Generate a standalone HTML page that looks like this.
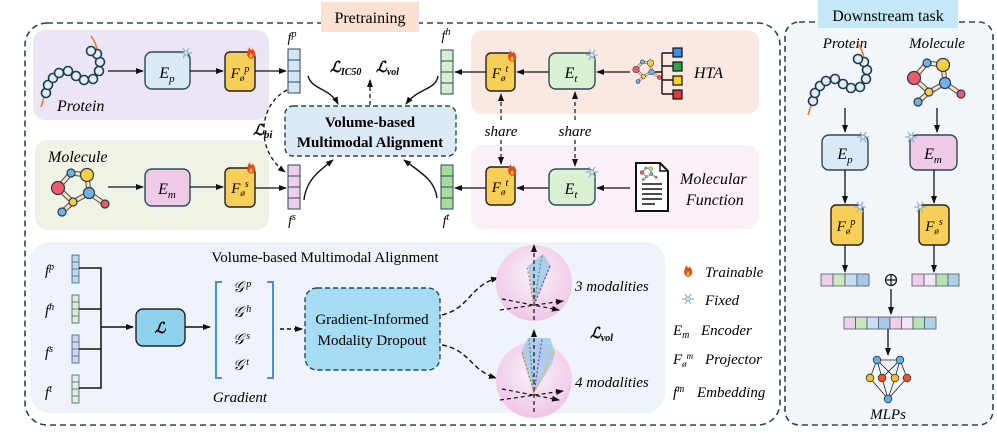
<!DOCTYPE html>
<html><head><meta charset="utf-8"><style>
html,body{margin:0;padding:0;background:#fff;}
svg{display:block;font-family:"Liberation Serif",serif;}
.it{font-style:italic;}
</style></head><body>
<svg width="997" height="433" viewBox="0 0 997 433" xmlns="http://www.w3.org/2000/svg">
<defs>
<marker id="ar" markerWidth="8" markerHeight="8" refX="7" refY="4" orient="auto" markerUnits="userSpaceOnUse"><path d="M0,1 L8,4 L0,7 Z" fill="#111"/></marker>
<radialGradient id="sph" cx="50%" cy="40%" r="60%"><stop offset="0" stop-color="#f9f1f8"/><stop offset="1" stop-color="#efc6e6"/></radialGradient>
<g id="flame"><path d="M0,0 C-5,-2 -5,-7 -1,-12 C-1,-8 2,-8 1,-11 C5,-7 6,-2 0,0 Z" fill="#e8471c"/><path d="M0,-1 C-2,-2 -2,-4 0,-6 C2,-4 2,-2 0,-1Z" fill="#f9c22e"/></g>
<g id="snow" stroke="#8fb3cc" stroke-width="1.2" fill="none"><path d="M-6,0 H6 M-3,-5.2 L3,5.2 M3,-5.2 L-3,5.2"/><circle r="2" fill="#dfeefa"/></g>
<g id="mol">
<g stroke="#5a4a3a" stroke-width="5" stroke-linecap="round" fill="none"><path d="M0,15 L13,0 L29,2 L31,20 L15,29 L0,15 M31,20 L47,31 M15,29 L4,39"/></g>
<g stroke="#efe2d0" stroke-width="3" stroke-linecap="round" fill="none"><path d="M0,15 L13,0 L29,2 L31,20 L15,29 L0,15 M31,20 L47,31 M15,29 L4,39"/></g>
<g stroke="#2a3a4a" stroke-width="1.2"><circle cx="0" cy="15" r="6.5" fill="#ef5a6a"/><circle cx="13" cy="0" r="4" fill="#6fb3ea"/><circle cx="29" cy="2" r="6.5" fill="#f6cf42"/><circle cx="31" cy="20" r="5.5" fill="#6fb3ea"/><circle cx="15" cy="29" r="4" fill="#f6cf42"/><circle cx="47" cy="31" r="4" fill="#ef5a6a"/><circle cx="4" cy="39" r="4" fill="#6fb3ea"/></g>
</g>
<g id="prot">
<path d="M0,45 C2,40 2,36 4,34" stroke="#e8752b" stroke-width="1.5" fill="none"/>
<path d="M56,-12 C55,-18 53,-22 50,-26" stroke="#e8752b" stroke-width="1.5" fill="none"/>
<g fill="#dfeefa" stroke="#1e3a4a" stroke-width="1.6">
<circle cx="5" cy="31" r="4.5"/><circle cx="7" cy="23" r="4.5"/><circle cx="12" cy="16" r="4.5"/><circle cx="18" cy="11" r="4.5"/><circle cx="27" cy="9" r="4.5"/><circle cx="35" cy="14" r="4.5"/><circle cx="43" cy="18" r="4.5"/><circle cx="52" cy="17" r="4.5"/><circle cx="58" cy="9" r="4.5"/><circle cx="59" cy="0" r="4.5"/><circle cx="56" cy="-8" r="4.5"/><circle cx="50" cy="-11" r="4.5"/>
</g></g>
</defs>

<rect x="25" y="23" width="755" height="402" rx="22" fill="none" stroke="#2d4654" stroke-width="1.6" stroke-dasharray="6,4"/>
<rect x="321" y="2" width="98" height="30" fill="#fbe1d2"/>
<text x="370" y="23" font-size="16" text-anchor="middle">Pretraining</text>

<rect x="33" y="30" width="236" height="90" rx="12" fill="#ece6f4"/>
<rect x="35" y="140" width="234" height="90" rx="12" fill="#eef3e6"/>
<rect x="471" y="30" width="288" height="84" rx="12" fill="#fce8e2"/>
<rect x="471" y="145" width="288" height="84" rx="12" fill="#fcf0f8"/>

<use href="#prot" x="41" y="62"/>
<text x="57" y="111" font-size="16" class="it">Protein</text>
<line x1="108" y1="71" x2="143" y2="71" stroke="#111" stroke-width="1.3" marker-end="url(#ar)"/>
<rect x="145" y="52" width="45" height="37" rx="7" fill="#dbe8f5" stroke="#2a4a5a" stroke-width="1.4"/>
<text x="167" y="78" font-size="16" class="it" text-anchor="middle">E<tspan font-size="11" dy="4">p</tspan></text>
<use href="#snow" x="186" y="53"/>
<line x1="190" y1="71" x2="223" y2="71" stroke="#111" stroke-width="1.3" marker-end="url(#ar)"/>
<rect x="225" y="52" width="30" height="39" rx="5" fill="#f7ce57" stroke="#222" stroke-width="1.4"/>
<text x="240" y="78" font-size="15" class="it" text-anchor="middle">F<tspan font-size="9" dy="3">ø</tspan><tspan font-size="10" dy="-9">p</tspan></text>
<use href="#flame" x="251" y="59"/>
<line x1="255" y1="71" x2="286" y2="71" stroke="#111" stroke-width="1.3" marker-end="url(#ar)"/>
<g stroke="#2a4a5a" stroke-width="1" fill="#d4e6f4"><rect x="288" y="49" width="12" height="11"/><rect x="288" y="60" width="12" height="11"/><rect x="288" y="71" width="12" height="11"/><rect x="288" y="82" width="12" height="11"/></g>
<text x="292" y="42" font-size="14" class="it" text-anchor="middle">f<tspan font-size="10" dy="-5">p</tspan></text>

<text x="48" y="162" font-size="16" class="it">Molecule</text>
<use href="#mol" x="58" y="173"/>
<line x1="108" y1="187" x2="143" y2="187" stroke="#111" stroke-width="1.3" marker-end="url(#ar)"/>
<rect x="145" y="169" width="45" height="37" rx="7" fill="#f0cbe8" stroke="#2a4a5a" stroke-width="1.4"/>
<text x="167" y="194" font-size="16" class="it" text-anchor="middle">E<tspan font-size="11" dy="4">m</tspan></text>
<line x1="190" y1="187" x2="223" y2="187" stroke="#111" stroke-width="1.3" marker-end="url(#ar)"/>
<rect x="225" y="168" width="30" height="39" rx="5" fill="#f7ce57" stroke="#222" stroke-width="1.4"/>
<text x="240" y="193" font-size="15" class="it" text-anchor="middle">F<tspan font-size="9" dy="3">ø</tspan><tspan font-size="10" dy="-9">s</tspan></text>
<use href="#flame" x="251" y="174"/>
<line x1="255" y1="188" x2="286" y2="188" stroke="#111" stroke-width="1.3" marker-end="url(#ar)"/>
<g stroke="#2a4a5a" stroke-width="1" fill="#f0cdea"><rect x="288" y="165" width="12" height="11"/><rect x="288" y="176" width="12" height="11"/><rect x="288" y="187" width="12" height="11"/><rect x="288" y="198" width="12" height="11"/></g>
<text x="292" y="225" font-size="14" class="it" text-anchor="middle">f<tspan font-size="10" dy="-5">s</tspan></text>

<path d="M287,90 C258,105 255,150 285,172" fill="none" stroke="#111" stroke-width="1.3" stroke-dasharray="4,3" marker-end="url(#ar)"/>
<text x="253" y="135" font-size="15" font-weight="bold" font-style="italic">ℒ<tspan font-size="11" dy="3">bi</tspan></text>

<rect x="285" y="106" width="171" height="50" rx="8" fill="#dbe8f5" stroke="#2d4654" stroke-width="1.4" stroke-dasharray="5,3"/>
<text x="370" y="127" font-size="15" font-weight="bold" text-anchor="middle">Volume-based</text>
<text x="370" y="147" font-size="15" font-weight="bold" text-anchor="middle">Multimodal Alignment</text>
<line x1="370" y1="105" x2="370" y2="80" stroke="#111" stroke-width="1.3" stroke-dasharray="4,3" marker-end="url(#ar)"/>
<text x="330" y="72" font-size="15" font-weight="bold" font-style="italic">ℒ<tspan font-size="10" dy="3">IC50</tspan></text>
<text x="376" y="72" font-size="15" font-weight="bold" font-style="italic">ℒ<tspan font-size="10" dy="3">vol</tspan></text>
<path d="M308,76 C312,90 330,88 338,104" fill="none" stroke="#111" stroke-width="1.4" marker-end="url(#ar)"/>
<path d="M304,200 C306,180 320,170 333,160" fill="none" stroke="#111" stroke-width="1.4" marker-end="url(#ar)"/>
<path d="M438,76 C436,90 418,88 406,104" fill="none" stroke="#111" stroke-width="1.4" marker-end="url(#ar)"/>
<path d="M437,198 C435,180 420,172 404,160" fill="none" stroke="#111" stroke-width="1.4" marker-end="url(#ar)"/>

<g stroke="#2a4a5a" stroke-width="1" fill="#d6efd0"><rect x="441" y="50" width="12" height="11"/><rect x="441" y="61" width="12" height="11"/><rect x="441" y="72" width="12" height="11"/><rect x="441" y="83" width="12" height="11"/></g>
<text x="446" y="40" font-size="14" class="it" text-anchor="middle">f<tspan font-size="10" dy="-5">h</tspan></text>
<g stroke="#2a4a5a" stroke-width="1" fill="#a9dc9c"><rect x="441" y="165" width="12" height="11"/><rect x="441" y="176" width="12" height="11"/><rect x="441" y="187" width="12" height="11"/><rect x="441" y="198" width="12" height="11"/></g>
<text x="446" y="225" font-size="14" class="it" text-anchor="middle">f<tspan font-size="10" dy="-5">t</tspan></text>

<line x1="486" y1="72" x2="455" y2="72" stroke="#111" stroke-width="1.3" marker-end="url(#ar)"/>
<rect x="486" y="53" width="29" height="38" rx="5" fill="#f7ce57" stroke="#222" stroke-width="1.4"/>
<text x="500" y="78" font-size="15" class="it" text-anchor="middle">F<tspan font-size="9" dy="3">ø</tspan><tspan font-size="10" dy="-9">t</tspan></text>
<use href="#flame" x="512" y="62"/>
<line x1="549" y1="72" x2="517" y2="72" stroke="#111" stroke-width="1.3" marker-end="url(#ar)"/>
<rect x="549" y="53" width="46" height="36" rx="7" fill="#d9f0d3" stroke="#2a4a5a" stroke-width="1.4"/>
<text x="571" y="78" font-size="16" class="it" text-anchor="middle">E<tspan font-size="11" dy="4">t</tspan></text>
<use href="#snow" x="592" y="55"/>
<line x1="630" y1="72" x2="597" y2="72" stroke="#111" stroke-width="1.3" marker-end="url(#ar)"/>
<g transform="translate(636,62) scale(0.5)"><use href="#mol"/></g>
<g stroke="#111" stroke-width="1.4" fill="none"><path d="M662,53 V94 M655,72 H662 M662,53 H673 M662,66 H673 M662,80 H673 M662,94 H673"/></g>
<g stroke="#111" stroke-width="1.2"><rect x="673" y="48" width="9" height="9" fill="#3a8ee8"/><rect x="673" y="62" width="9" height="9" fill="#2ea94a"/><rect x="673" y="76" width="9" height="9" fill="#f4d31f"/><rect x="673" y="90" width="9" height="9" fill="#e03a3a"/></g>
<text x="694" y="78" font-size="16" class="it">HTA</text>

<line x1="501" y1="120" x2="501" y2="94" stroke="#111" stroke-width="1.2" stroke-dasharray="4,3" marker-end="url(#ar)"/>
<line x1="501" y1="140" x2="501" y2="164" stroke="#111" stroke-width="1.2" stroke-dasharray="4,3" marker-end="url(#ar)"/>
<line x1="575" y1="120" x2="575" y2="92" stroke="#111" stroke-width="1.2" stroke-dasharray="4,3" marker-end="url(#ar)"/>
<line x1="575" y1="140" x2="575" y2="166" stroke="#111" stroke-width="1.2" stroke-dasharray="4,3" marker-end="url(#ar)"/>
<text x="501" y="136" font-size="15" class="it" text-anchor="middle">share</text>
<text x="575" y="136" font-size="15" class="it" text-anchor="middle">share</text>

<line x1="486" y1="188" x2="455" y2="188" stroke="#111" stroke-width="1.3" marker-end="url(#ar)"/>
<rect x="486" y="167" width="29" height="38" rx="5" fill="#f7ce57" stroke="#222" stroke-width="1.4"/>
<text x="500" y="192" font-size="15" class="it" text-anchor="middle">F<tspan font-size="9" dy="3">ø</tspan><tspan font-size="10" dy="-9">t</tspan></text>
<use href="#flame" x="512" y="176"/>
<line x1="549" y1="188" x2="517" y2="188" stroke="#111" stroke-width="1.3" marker-end="url(#ar)"/>
<rect x="549" y="169" width="46" height="36" rx="7" fill="#d9f0d3" stroke="#2a4a5a" stroke-width="1.4"/>
<text x="571" y="194" font-size="16" class="it" text-anchor="middle">E<tspan font-size="11" dy="4">t</tspan></text>
<use href="#snow" x="592" y="172"/>
<line x1="630" y1="188" x2="597" y2="188" stroke="#111" stroke-width="1.3" marker-end="url(#ar)"/>
<path d="M636,163 H660 L668,171 V211 H636 Z" fill="#fff" stroke="#111" stroke-width="2"/>
<path d="M660,163 V171 H668" fill="none" stroke="#111" stroke-width="1.5"/>
<g transform="translate(642,168) scale(0.3)"><use href="#mol"/></g>
<g stroke="#111" stroke-width="1.6"><path d="M642,184 H662 M642,189 H662 M642,194 H662 M642,199 H662 M642,204 H655"/></g>
<text x="680" y="184" font-size="16" class="it">Molecular</text>
<text x="686" y="205" font-size="16" class="it">Function</text>

<rect x="30" y="242" width="635" height="171" rx="20" fill="#eef2f9"/>
<text x="325" y="262" font-size="15" text-anchor="middle">Volume-based Multimodal Alignment</text>
<g class="it" font-size="15">
<text x="45" y="275">f<tspan font-size="10" dy="-5">p</tspan></text>
<text x="45" y="315">f<tspan font-size="10" dy="-5">h</tspan></text>
<text x="45" y="357">f<tspan font-size="10" dy="-5">s</tspan></text>
<text x="45" y="397">f<tspan font-size="10" dy="-5">t</tspan></text>
</g>
<g stroke="#4a5a6a" stroke-width="0.8">
<rect x="72" y="255" width="7" height="28" fill="#bcd8ee"/><rect x="72" y="295" width="7" height="28" fill="#d6efd0"/><rect x="72" y="335" width="7" height="28" fill="#c9d9f0"/><rect x="72" y="375" width="7" height="28" fill="#dceede"/>
<path d="M72,262H79M72,269H79M72,276H79M72,302H79M72,309H79M72,316H79M72,342H79M72,349H79M72,356H79M72,382H79M72,389H79M72,396H79" fill="none"/>
</g>
<g stroke="#111" stroke-width="1.5" fill="none"><path d="M79,268 H101 V388 H79 M79,309 H101 M79,349 H101"/></g>
<line x1="101" y1="327" x2="133" y2="327" stroke="#111" stroke-width="1.5" marker-end="url(#ar)"/>
<rect x="136" y="309" width="49" height="37" rx="7" fill="#8fd0ec" stroke="#222" stroke-width="1.4"/>
<text x="160" y="333" font-size="15" font-weight="bold" font-style="italic" text-anchor="middle">ℒ</text>
<line x1="185" y1="327" x2="210" y2="327" stroke="#111" stroke-width="1.5" marker-end="url(#ar)"/>
<path d="M222,282 H216 V378 H222 M267,282 H273 V378 H267" fill="none" stroke="#4a90d9" stroke-width="2"/>
<g class="it" font-size="15"><text x="233" y="292">𝒢<tspan font-size="10" dy="-5"> p</tspan></text><text x="233" y="317">𝒢<tspan font-size="10" dy="-5"> h</tspan></text><text x="233" y="344">𝒢<tspan font-size="10" dy="-5"> s</tspan></text><text x="233" y="370">𝒢<tspan font-size="10" dy="-5"> t</tspan></text></g>
<text x="240" y="402" font-size="15" class="it" text-anchor="middle">Gradient</text>
<line x1="280" y1="329" x2="302" y2="329" stroke="#111" stroke-width="1.5" stroke-dasharray="4,3" marker-end="url(#ar)"/>
<rect x="305" y="288" width="135" height="82" rx="12" fill="#a6dcf3" stroke="#2d4654" stroke-width="1.4" stroke-dasharray="5,3"/>
<text x="372" y="324" font-size="15" text-anchor="middle">Gradient-Informed</text>
<text x="372" y="345" font-size="15" text-anchor="middle">Modality Dropout</text>
<path d="M442,315 C470,308 470,285 498,278" fill="none" stroke="#111" stroke-width="1.4" stroke-dasharray="5,3" marker-end="url(#ar)"/>
<path d="M442,345 C470,350 470,370 496,378" fill="none" stroke="#111" stroke-width="1.4" stroke-dasharray="5,3" marker-end="url(#ar)"/>

<circle cx="534" cy="283" r="38" fill="url(#sph)"/>
<circle cx="534" cy="380" r="38" fill="url(#sph)"/>
<g fill="none" stroke-width="1.2">
<path d="M534,305 L528,266 L543,254 L551,266 Z" fill="#9ec6ea" stroke="none" opacity="0.8"/>
<line x1="534" y1="320" x2="534" y2="245" stroke="#111" stroke-dasharray="4,3" marker-end="url(#ar)"/>
<line x1="500" y1="310" x2="563" y2="301" stroke="#111" stroke-dasharray="4,3" marker-end="url(#ar)"/>
<line x1="502" y1="299" x2="559" y2="310" stroke="#111" stroke-dasharray="4,3" marker-end="url(#ar)"/>
<line x1="534" y1="305" x2="527" y2="266" stroke="#e8752b" stroke-dasharray="2,2"/>
<line x1="534" y1="305" x2="542" y2="255" stroke="#3aa45a" stroke-dasharray="2,2"/>
<line x1="534" y1="305" x2="550" y2="266" stroke="#7a3ac0" stroke-dasharray="2,2"/>
<path d="M534,393 L521,352 L528,338 L550,338 L555,352 L552,364 Z" fill="#9ec6ea" stroke="none" opacity="0.8"/>
<line x1="534" y1="412" x2="534" y2="330" stroke="#111" stroke-dasharray="4,3" marker-end="url(#ar)"/>
<line x1="500" y1="400" x2="563" y2="391" stroke="#111" stroke-dasharray="4,3" marker-end="url(#ar)"/>
<line x1="502" y1="389" x2="559" y2="400" stroke="#111" stroke-dasharray="4,3" marker-end="url(#ar)"/>
<line x1="534" y1="393" x2="522" y2="352" stroke="#e8752b" stroke-dasharray="2,2"/>
<line x1="534" y1="393" x2="529" y2="339" stroke="#3aa45a" stroke-dasharray="2,2"/>
<line x1="534" y1="393" x2="542" y2="339" stroke="#7a3ac0" stroke-dasharray="2,2"/>
<line x1="534" y1="393" x2="553" y2="352" stroke="#f0b818" stroke-dasharray="2,2"/>
</g>
<text x="575" y="291" font-size="15" class="it">3 modalities</text>
<text x="575" y="387" font-size="15" class="it">4 modalities</text>
<text x="590" y="338" font-size="15" font-weight="bold" font-style="italic">ℒ<tspan font-size="10" dy="3">vol</tspan></text>

<use href="#flame" x="688" y="277"/>
<text x="705" y="277" font-size="15" class="it">Trainable</text>
<use href="#snow" x="688" y="299"/>
<text x="705" y="305" font-size="15" class="it">Fixed</text>
<text x="673" y="335" font-size="15" class="it">E<tspan font-size="10" dy="3">m</tspan></text>
<text x="701" y="335" font-size="15" class="it">Encoder</text>
<text x="673" y="364" font-size="15" class="it">F<tspan font-size="9" dy="3">ø</tspan><tspan font-size="9" dy="-8">m</tspan></text>
<text x="705" y="364" font-size="15" class="it">Projector</text>
<text x="673" y="397" font-size="15" class="it">f<tspan font-size="10" dy="-5">m</tspan></text>
<text x="697" y="397" font-size="15" class="it">Embedding</text>

<rect x="785" y="22" width="208" height="403" rx="14" fill="#f2f5fa" stroke="#2d4654" stroke-width="1.6" stroke-dasharray="6,4"/>
<rect x="818" y="0" width="140" height="28" fill="#c4e8f6"/>
<text x="888" y="21" font-size="16" text-anchor="middle">Downstream task</text>
<text x="845" y="48" font-size="15" class="it" text-anchor="middle">Protein</text>
<text x="937" y="48" font-size="15" class="it" text-anchor="middle">Molecule</text>
<use href="#prot" x="808" y="70"/>
<use href="#mol" x="914" y="63"/>
<line x1="845" y1="108" x2="845" y2="132" stroke="#111" stroke-width="1.3" marker-end="url(#ar)"/>
<line x1="937" y1="108" x2="937" y2="132" stroke="#111" stroke-width="1.3" marker-end="url(#ar)"/>
<rect x="822" y="135" width="46" height="35" rx="7" fill="#dbe8f5" stroke="#2a4a5a" stroke-width="1.4"/>
<text x="845" y="159" font-size="16" class="it" text-anchor="middle">E<tspan font-size="11" dy="4">p</tspan></text>
<use href="#snow" x="863" y="137"/>
<rect x="910" y="135" width="47" height="35" rx="7" fill="#f0cbe8" stroke="#2a4a5a" stroke-width="1.4"/>
<text x="933" y="159" font-size="16" class="it" text-anchor="middle">E<tspan font-size="11" dy="4">m</tspan></text>
<use href="#snow" x="911" y="137"/>
<line x1="845" y1="170" x2="845" y2="203" stroke="#111" stroke-width="1.3" marker-end="url(#ar)"/>
<line x1="934" y1="170" x2="934" y2="203" stroke="#111" stroke-width="1.3" marker-end="url(#ar)"/>
<rect x="831" y="205" width="32" height="40" rx="5" fill="#f7ce57" stroke="#222" stroke-width="1.4"/>
<text x="846" y="231" font-size="15" class="it" text-anchor="middle">F<tspan font-size="9" dy="3">ø</tspan><tspan font-size="10" dy="-9">p</tspan></text>
<use href="#snow" x="860" y="207"/>
<rect x="919" y="205" width="30" height="40" rx="5" fill="#f7ce57" stroke="#222" stroke-width="1.4"/>
<text x="934" y="231" font-size="15" class="it" text-anchor="middle">F<tspan font-size="9" dy="3">ø</tspan><tspan font-size="10" dy="-9">s</tspan></text>
<use href="#snow" x="920" y="207"/>
<line x1="845" y1="245" x2="845" y2="272" stroke="#111" stroke-width="1.3" marker-end="url(#ar)"/>
<line x1="934" y1="245" x2="934" y2="272" stroke="#111" stroke-width="1.3" marker-end="url(#ar)"/>
<g stroke="#4a5a6a" stroke-width="0.8">
<rect x="821" y="274" width="12" height="12" fill="#f0cdea"/><rect x="833" y="274" width="12" height="12" fill="#c9e8c2"/><rect x="845" y="274" width="12" height="12" fill="#c9ddf0"/><rect x="857" y="274" width="12" height="12" fill="#a9c8e6"/>
<rect x="912" y="274" width="12" height="12" fill="#f0cdea"/><rect x="924" y="274" width="12" height="12" fill="#f7e4f2"/><rect x="936" y="274" width="12" height="12" fill="#b8e2b0"/><rect x="948" y="274" width="11" height="12" fill="#b0d0e6"/>
<rect x="844" y="317" width="11.5" height="12" fill="#f0cdea"/><rect x="855.5" y="317" width="11.5" height="12" fill="#c9e8c2"/><rect x="867" y="317" width="11.5" height="12" fill="#c9ddf0"/><rect x="878.5" y="317" width="11.5" height="12" fill="#a9c8e6"/><rect x="890" y="317" width="11.5" height="12" fill="#f0cdea"/><rect x="901.5" y="317" width="11.5" height="12" fill="#f7e4f2"/><rect x="913" y="317" width="11.5" height="12" fill="#b8e2b0"/><rect x="924.5" y="317" width="11.5" height="12" fill="#b0d0e6"/>
</g>
<circle cx="891" cy="280" r="5.5" fill="none" stroke="#111" stroke-width="1.2"/><path d="M885.5,280 H896.5 M891,274.5 V285.5" stroke="#111" stroke-width="1.2"/>
<line x1="891" y1="289" x2="891" y2="314" stroke="#111" stroke-width="1.3" marker-end="url(#ar)"/>
<line x1="888" y1="329" x2="888" y2="355" stroke="#111" stroke-width="1.3" marker-end="url(#ar)"/>
<g stroke="#222" stroke-width="0.8"><path d="M877,360 H900 M877,360 L870,378 M877,360 L882,378 M877,360 L895,378 M900,360 L882,378 M900,360 L895,378 M900,360 L907,378 M870,378 L888,399 M882,378 L888,399 M895,378 L888,399 M907,378 L888,399"/></g>
<g stroke="#333" stroke-width="0.8"><circle cx="877" cy="360" r="3.8" fill="#5ab4ea"/><circle cx="900" cy="360" r="3.8" fill="#5ab4ea"/><circle cx="870" cy="378" r="3.8" fill="#f6c02a"/><circle cx="882" cy="378" r="3.8" fill="#f0522a"/><circle cx="895" cy="378" r="3.8" fill="#f6c02a"/><circle cx="907" cy="378" r="3.8" fill="#f0522a"/><circle cx="888" cy="399" r="3.8" fill="#5ab4ea"/></g>
<text x="888" y="419" font-size="15" class="it" text-anchor="middle">MLPs</text>
</svg>
</body></html>
